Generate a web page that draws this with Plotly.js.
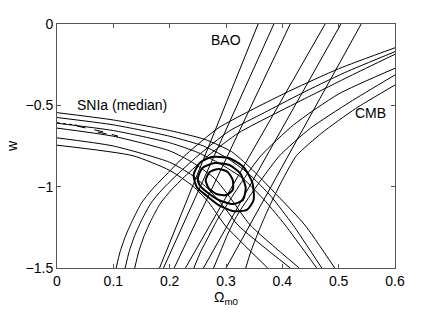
<!DOCTYPE html>
<html><head><meta charset="utf-8">
<script src="https://cdn.plot.ly/plotly-3.0.1.min.js"></script>
<style>body{margin:0;padding:0;background:#fff}#chart{width:436px;height:312px}</style>
</head><body><div id="chart"></div>
<script>
// BAO contours (straight lines): x at w=0 and at w=-1.5
const baoTopX = [0.357, 0.385, 0.414, 0.476, 0.504, 0.540];
const baoBotX = [0.182, 0.189, 0.208, 0.228, 0.260, 0.300];
const baoY = [0, -1.5];

// CMB contours
const cmbU3x = [0.105, 0.112, 0.122, 0.135, 0.15, 0.168, 0.19, 0.23, 0.286, 0.35, 0.417, 0.5, 0.6];
const cmbU3y = [-1.5, -1.4, -1.3, -1.2, -1.1, -1.02, -0.94, -0.80, -0.64, -0.52, -0.405, -0.275, -0.146];
const cmbU2x = [0.121, 0.128, 0.138, 0.151, 0.167, 0.186, 0.209, 0.25, 0.305, 0.368, 0.432, 0.51, 0.6];
const cmbU2y = [-1.5, -1.4, -1.3, -1.2, -1.1, -1.02, -0.94, -0.81, -0.66, -0.545, -0.43, -0.30, -0.170];
const cmbU1x = [0.138, 0.145, 0.155, 0.168, 0.184, 0.203, 0.226, 0.268, 0.322, 0.385, 0.445, 0.52, 0.6];
const cmbU1y = [-1.5, -1.4, -1.3, -1.2, -1.1, -1.02, -0.94, -0.81, -0.67, -0.555, -0.45, -0.32, -0.186];
const cmbL1x = [0.243, 0.255, 0.27, 0.285, 0.30, 0.33, 0.362, 0.42, 0.5, 0.6];
const cmbL1y = [-1.5, -1.4, -1.3, -1.2, -1.12, -0.96, -0.81, -0.62, -0.43, -0.272];
const cmbL2x = [0.278, 0.29, 0.302, 0.316, 0.33, 0.362, 0.395, 0.45, 0.52, 0.6];
const cmbL2y = [-1.5, -1.4, -1.3, -1.2, -1.12, -0.96, -0.81, -0.64, -0.48, -0.313];
const cmbL3x = [0.335, 0.344, 0.355, 0.367, 0.38, 0.40, 0.425, 0.47, 0.53, 0.6];
const cmbL3y = [-1.5, -1.4, -1.3, -1.2, -1.1, -0.96, -0.81, -0.67, -0.52, -0.375];

// SNIa contours
const snA1x = [0, 0.1, 0.2, 0.263, 0.31, 0.342, 0.39, 0.44, 0.493];
const snA1y = [-0.545, -0.59, -0.655, -0.71, -0.785, -0.88, -1.05, -1.236, -1.5];
const snA2x = [0, 0.1, 0.2, 0.26, 0.3, 0.34, 0.38, 0.419, 0.470];
const snA2y = [-0.575, -0.62, -0.69, -0.75, -0.82, -0.92, -1.06, -1.236, -1.5];
const snA3x = [0, 0.1, 0.2, 0.25, 0.29, 0.33, 0.37, 0.405, 0.461];
const snA3y = [-0.61, -0.655, -0.73, -0.79, -0.86, -0.95, -1.09, -1.236, -1.5];
const snB3x = [0, 0.1, 0.2, 0.24, 0.28, 0.31, 0.343, 0.43];
const snB3y = [-0.64, -0.69, -0.78, -0.85, -0.95, -1.08, -1.236, -1.5];
const snB2x = [0, 0.1, 0.2, 0.24, 0.27, 0.3, 0.321, 0.414];
const snB2y = [-0.70, -0.75, -0.85, -0.93, -1.02, -1.14, -1.236, -1.5];
const snB1x = [0, 0.135, 0.2, 0.241, 0.27, 0.298, 0.374];
const snB1y = [-0.745, -0.81, -0.9, -0.996, -1.1, -1.236, -1.5];
// SNIa median sliver
const medDotX = [0, 0.035];
const medDotY = [-0.607, -0.622];
const medX = [0.035, 0.06, 0.085, 0.108, 0.085, 0.06];
const medY = [-0.627, -0.645, -0.665, -0.69, -0.672, -0.655];

// Joint contours
const j3x = [0.2425, 0.253, 0.274, 0.305, 0.331, 0.347, 0.349, 0.337, 0.312, 0.287, 0.266, 0.248, 0.2425];
const j3y = [-0.928, -0.855, -0.818, -0.824, -0.879, -0.977, -1.082, -1.143, -1.150, -1.113, -1.057, -1.002, -0.928];
const j2x = [0.250, 0.258, 0.280, 0.306, 0.326, 0.335, 0.330, 0.312, 0.287, 0.266, 0.253, 0.250];
const j2y = [-0.947, -0.885, -0.855, -0.867, -0.922, -1.008, -1.082, -1.107, -1.082, -1.033, -0.990, -0.947];
const j1x = [0.264, 0.271, 0.287, 0.303, 0.312, 0.312, 0.301, 0.283, 0.269, 0.264];
const j1y = [-0.959, -0.910, -0.891, -0.910, -0.959, -1.020, -1.051, -1.045, -1.008, -0.959];

const xTicks = [0, 0.1, 0.2, 0.3, 0.4, 0.5, 0.6];
const xTickText = ['0', '0.1', '0.2', '0.3', '0.4', '0.5', '0.6'];
const yTicks = [-1.5, -1, -0.5, 0];
const yTickText = ['\u22121.5', '\u22121', '\u22120.5', '0'];

const traces = [];
function line(x, y, w, dash, smooth) {
  const ln = {color: '#000', width: w || 1, dash: dash || 'solid'};
  if (smooth) { ln.shape = 'spline'; ln.smoothing = 0.6; }
  traces.push({type: 'scatter', mode: 'lines', x: x, y: y, line: ln,
    hoverinfo: 'skip', showlegend: false});
}
for (let i = 0; i < baoTopX.length; i++) line([baoTopX[i], baoBotX[i]], baoY);
[[cmbU3x, cmbU3y], [cmbU2x, cmbU2y], [cmbU1x, cmbU1y], [cmbL1x, cmbL1y], [cmbL2x, cmbL2y], [cmbL3x, cmbL3y]].forEach(c => line(c[0], c[1], 1, 'solid', true));
[[snA1x, snA1y], [snA2x, snA2y], [snA3x, snA3y], [snB3x, snB3y], [snB2x, snB2y], [snB1x, snB1y]].forEach(c => line(c[0], c[1], 1, 'solid', true));
line(medDotX, medDotY, 1, 'dot');
line(medX, medY, 1, 'dash');
line(j3x, j3y, 2, 'solid', true); line(j2x, j2y, 2, 'solid', true); line(j1x, j1y, 2, 'solid', true);

const font = {family: 'Liberation Sans, Arial, sans-serif', size: 14, color: '#000'};
const labFont = {family: 'Liberation Sans, Arial, sans-serif', size: 14, color: '#000'};
const layout = {
  width: 436, height: 312,
  margin: {l: 57, r: 41, t: 24, b: 44},
  paper_bgcolor: '#fff', plot_bgcolor: '#fff',
  font: font,
  xaxis: {range: [0, 0.6], tickvals: xTicks, ticktext: xTickText, ticks: 'inside', ticklen: 4,
    tickcolor: '#555', showline: true, linecolor: '#555', linewidth: 1, mirror: 'allticks',
    showgrid: false, zeroline: false, tickfont: font,
    title: {text: '\u03a9<sub>m0</sub>', font: font, standoff: 2}},
  yaxis: {range: [-1.5, 0], tickvals: yTicks, ticktext: yTickText, ticks: 'inside', ticklen: 4,
    tickcolor: '#555', showline: true, linecolor: '#555', linewidth: 1, mirror: 'allticks',
    showgrid: false, zeroline: false, tickfont: font,
    title: {text: 'w', font: font, standoff: 4}},
  annotations: [
    {x: 0.300, y: -0.098, xref: 'x', yref: 'y', text: 'BAO', showarrow: false, font: labFont},
    {x: 0.115, y: -0.498, xref: 'x', yref: 'y', text: 'SNIa (median)', showarrow: false, font: labFont},
    {x: 0.557, y: -0.547, xref: 'x', yref: 'y', text: 'CMB', showarrow: false, font: labFont}
  ]
};
Plotly.newPlot('chart', traces, layout, {displayModeBar: false, staticPlot: true});
</script></body></html>
